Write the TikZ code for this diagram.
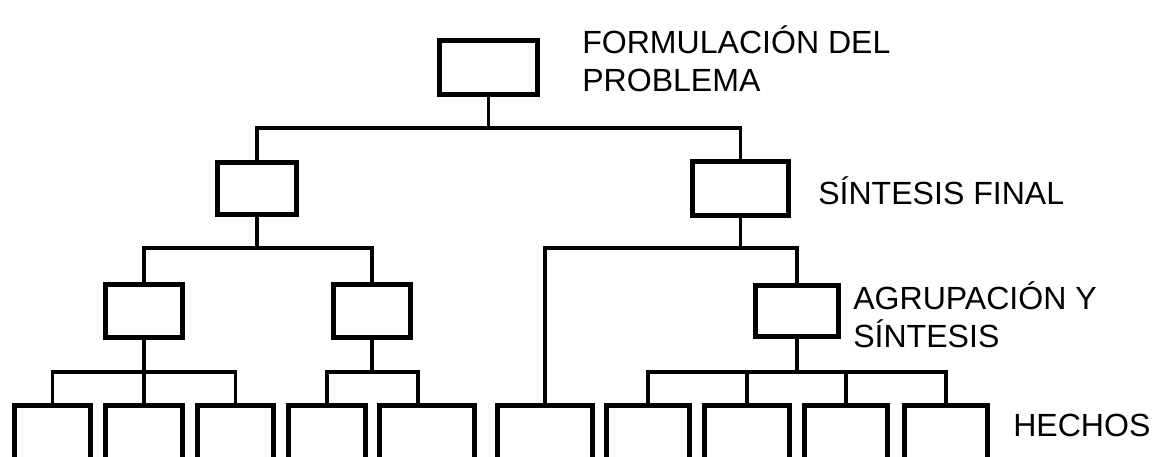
\documentclass[tikz,border=0pt]{standalone}
\usepackage{fontspec}
\setmainfont{Liberation Sans}
\usepackage{tikz}
\usetikzlibrary{positioning}
\tikzset{
    caja/.style 2 args={draw, line width=3.5pt, inner sep=0pt, minimum width=#1*0.025cm-3.5pt, minimum height=#2*0.025cm-3.5pt},
    linea/.style={line width=2.7pt},
    texto/.style={font=\fontsize{22.8}{27.4}\selectfont, inner sep=0pt, align=left}
}

\begin{document}
\begin{tikzpicture}[x=0.025cm, y=-0.025cm]
    \useasboundingbox (0,0) rectangle (1156,457);
    \clip (0,0) rectangle (1156,457);
    \node[caja={103}{59}] at (488.5,67.5) (prob) {};
    \node[caja={84}{57}] at (257,188.5) (izq) {};
    \node[caja={101}{59}] at (740.5,188.5) (sint) {};
    \node[caja={82}{58}] at (144,311) (grpA) {};
    \node[caja={82}{58}] at (372,311) (grpB) {};
    \node[caja={88}{56}] at (797,311) (agr) {};

    \node[caja={81}{80}] at (52.5,443) (h1) {};
    \node[caja={82}{80}] at (144,443) (h2) {};
    \node[caja={81}{80}] at (235.5,443) (h3) {};
    \node[caja={82}{80}] at (327,443) (h4) {};
    \node[caja={100}{80}] at (427,443) (h5) {};
    \node[caja={100}{80}] at (545,443) (h6) {};
    \node[caja={88}{80}] at (648,443) (h7) {};
    \node[caja={90}{80}] at (747,443) (h8) {};
    \node[caja={88}{80}] at (846,443) (h9) {};
    \node[caja={88}{80}] at (946,443) (h10) {};

    \draw[linea] (prob.south) -- (prob.south |- 0,128);
    \draw[linea] (izq.north) |- (prob.south |- 0,128) -| (sint.north);
    \draw[linea] (izq.south) -- (izq.south |- 0,248);
    \draw[linea] (grpA.north) |- (izq.south |- 0,248) -| (grpB.north);
    \draw[linea] (sint.south) -- (sint.south |- 0,248);
    \draw[linea] (h6.north) |- (sint.south |- 0,248) -| (agr.north);
    \draw[linea] (grpA.south) -- (grpA.south |- 0,372);
    \draw[linea] (h1.north) |- (grpA.south |- 0,372) -| (h3.north);
    \draw[linea] (h2.north) -- (grpA.south |- 0,372);
    \draw[linea] (grpB.south) -- (grpB.south |- 0,372);
    \draw[linea] (h4.north) |- (grpB.south |- 0,372) -| ([xshift=-0.225cm]h5.north);
    \draw[linea] (agr.south) -- (agr.south |- 0,372);
    \draw[linea] (h7.north) |- (agr.south |- 0,372) -| (h10.north);
    \draw[linea] (h8.north) -- (h8.north |- 0,372);
    \draw[linea] (h9.north) -- (h9.north |- 0,372);

    \node[texto, anchor=base west] at (582,92) (tprob) {FORMULACIÓN DEL\\PROBLEMA};
    \node[texto, anchor=base west] at (818,205) (tsint) {SÍNTESIS FINAL};
    \node[texto, anchor=base west] at (853,348) (tagr) {AGRUPACIÓN Y\\SÍNTESIS};
    \node[texto, anchor=base west] at (1013,437) (thech) {HECHOS};
\end{tikzpicture}
\end{document}
